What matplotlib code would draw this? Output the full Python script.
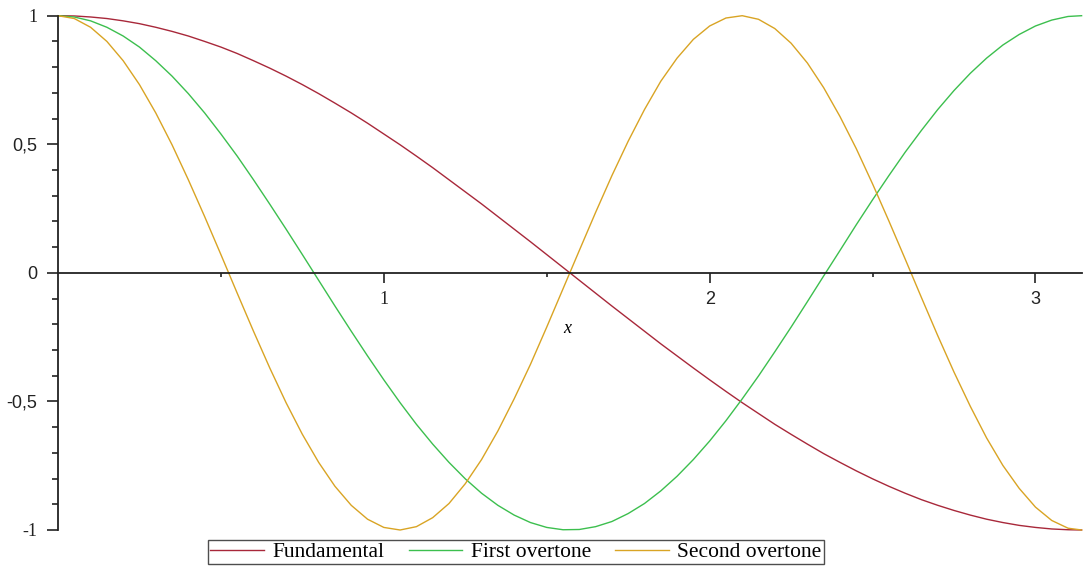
import numpy as np
import matplotlib
matplotlib.use("Agg")
import matplotlib.pyplot as plt
from matplotlib.ticker import FixedLocator, MultipleLocator

# sample points along x (0 .. pi)
x = [0.00, 0.05, 0.10, 0.15, 0.20, 0.25, 0.30, 0.35, 0.40, 0.45,
     0.50, 0.55, 0.60, 0.65, 0.70, 0.75, 0.80, 0.85, 0.90, 0.95,
     1.00, 1.05, 1.10, 1.15, 1.20, 1.25, 1.30, 1.35, 1.40, 1.45,
     1.50, 1.55, 1.60, 1.65, 1.70, 1.75, 1.80, 1.85, 1.90, 1.95,
     2.00, 2.05, 2.10, 2.15, 2.20, 2.25, 2.30, 2.35, 2.40, 2.45,
     2.50, 2.55, 2.60, 2.65, 2.70, 2.75, 2.80, 2.85, 2.90, 2.95,
     3.00, 3.05, 3.10, 3.1416]

fundamental = [1.000, 0.999, 0.995, 0.989, 0.980, 0.969, 0.955, 0.939, 0.921, 0.900,
               0.878, 0.853, 0.825, 0.796, 0.765, 0.732, 0.697, 0.660, 0.622, 0.582,
               0.540, 0.498, 0.454, 0.409, 0.362, 0.315, 0.268, 0.219, 0.170, 0.121,
               0.071, 0.021, -0.029, -0.079, -0.129, -0.178, -0.227, -0.276, -0.323, -0.370,
               -0.416, -0.461, -0.505, -0.547, -0.589, -0.628, -0.666, -0.703, -0.737, -0.770,
               -0.801, -0.830, -0.857, -0.882, -0.904, -0.924, -0.942, -0.958, -0.971, -0.982,
               -0.990, -0.996, -0.999, -1.000]

first_overtone = [1.000, 0.995, 0.980, 0.955, 0.921, 0.878, 0.825, 0.765, 0.697, 0.622,
                  0.540, 0.454, 0.362, 0.267, 0.170, 0.071, -0.029, -0.129, -0.227, -0.323,
                  -0.416, -0.505, -0.589, -0.666, -0.737, -0.801, -0.857, -0.904, -0.942, -0.971,
                  -0.990, -0.999, -0.998, -0.987, -0.967, -0.936, -0.897, -0.848, -0.791, -0.726,
                  -0.654, -0.575, -0.490, -0.401, -0.307, -0.211, -0.112, -0.012, 0.087, 0.187,
                  0.284, 0.378, 0.469, 0.554, 0.635, 0.709, 0.776, 0.835, 0.886, 0.927,
                  0.960, 0.983, 0.997, 1.000]

second_overtone = [1.000, 0.989, 0.955, 0.900, 0.825, 0.732, 0.622, 0.498, 0.362, 0.219,
                   0.071, -0.079, -0.227, -0.370, -0.505, -0.628, -0.737, -0.830, -0.904, -0.958,
                   -0.990, -1.000, -0.987, -0.952, -0.897, -0.820, -0.726, -0.615, -0.490, -0.356,
                   -0.211, -0.062, 0.087, 0.235, 0.378, 0.512, 0.635, 0.745, 0.835, 0.908,
                   0.960, 0.991, 1.000, 0.986, 0.950, 0.893, 0.816, 0.720, 0.608, 0.483,
                   0.346, 0.202, 0.054, -0.096, -0.244, -0.386, -0.519, -0.642, -0.749, -0.838,
                   -0.911, -0.963, -0.993, -1.000]

labels = ["Fundamental", "First overtone", "Second overtone"]
colors = ["#a8283a", "#3cbf4e", "#d9a424"]

y_ticks = [-1, -0.5, 0, 0.5, 1]
y_ticklabels = ["-1", "-0,5", "0", "0,5", "1"]
x_ticks = [1, 2, 3]
x_ticklabels = ["1", "2", "3"]

W, H = 1083, 571
fig = plt.figure(figsize=(W / 100, H / 100), dpi=100)
x0, x1 = 58, 1081.6
ytop, ybot = 15.7, 530
ax = fig.add_axes([x0 / W, 1 - ybot / H, (x1 - x0) / W, (ybot - ytop) / H])
ax.set_xlim(0, np.pi)
ax.set_ylim(-1, 1)
ax.patch.set_alpha(0)

for ys, lab, col in zip([fundamental, first_overtone, second_overtone], labels, colors):
    ax.plot(x, ys, color=col, lw=1.0, label=lab, clip_on=False)

# axes through the origin
for side in ["top", "right"]:
    ax.spines[side].set_visible(False)
ax.spines["bottom"].set_position(("data", 0))
ax.spines["left"].set_position(("data", 0))
for side in ["bottom", "left"]:
    ax.spines[side].set_linewidth(1.3)
    ax.spines[side].set_color("#222222")
ax.spines["bottom"].set_bounds(0, np.pi)

ax.yaxis.set_major_locator(FixedLocator(y_ticks))
ax.set_yticklabels(y_ticklabels)
ax.yaxis.set_minor_locator(MultipleLocator(0.1))
ax.xaxis.set_major_locator(FixedLocator(x_ticks))
ax.set_xticklabels(x_ticklabels)
ax.xaxis.set_minor_locator(FixedLocator([0.5, 1.5, 2.5]))

ax.tick_params(axis="y", which="major", direction="out", length=8, width=1.2,
               pad=7, labelsize=13, colors="#222222")
ax.tick_params(axis="y", which="minor", direction="out", length=4, width=1.2, colors="#222222")
ax.tick_params(axis="x", which="major", direction="out", length=7, width=1.2,
               pad=6, labelsize=13, colors="#222222")
ax.tick_params(axis="x", which="minor", direction="out", length=3, width=1.2, colors="#222222")

serif = "Liberation Serif"
sans = "Liberation Sans"
for t, fam in zip(ax.get_yticklabels(), [serif, sans, sans, sans, serif]):
    t.set_fontfamily(fam)
for t, fam in zip(ax.get_xticklabels(), [serif, sans, sans]):
    t.set_fontfamily(fam)

ax.text(1.562, -0.215, "x", fontsize=13, family=serif, style="italic",
        ha="center", va="center")

leg = fig.legend(loc="center", bbox_to_anchor=(516 / W, 1 - 552 / H), ncol=3,
                 frameon=True, fancybox=False, edgecolor="#222222",
                 prop={"family": serif, "size": 15.5}, handlelength=2.5,
                 handletextpad=0.4, columnspacing=1.1, borderpad=0.1,
                 borderaxespad=0, labelspacing=0)
leg.get_frame().set_linewidth(1.0)

fig.savefig("out.png", dpi=100)
